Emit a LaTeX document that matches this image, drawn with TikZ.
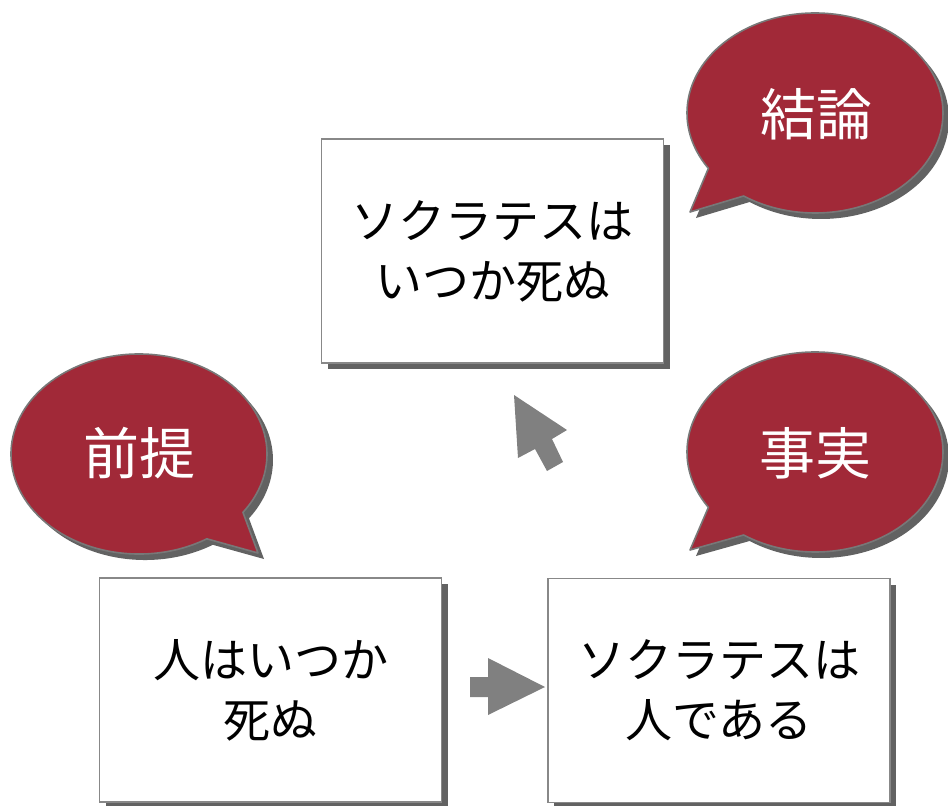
\documentclass[tikz,border=0pt]{standalone}
\usepackage{fontspec}
\newfontfamily\jp{Noto Sans CJK JP}
\usetikzlibrary{shadows}
\definecolor{callred}{RGB}{161,41,56}
\definecolor{shadegray}{RGB}{98,98,98}
\definecolor{edgegray}{RGB}{136,136,136}
\definecolor{bubbleedge}{RGB}{120,120,120}
\definecolor{arrowgray}{RGB}{128,128,128}
\tikzset{
  box/.style={draw=edgegray, line width=1.6pt, fill=white, inner sep=0pt,
    minimum width=342pt, minimum height=224pt, align=center,
    font=\jp\fontsize{47}{60}\selectfont,
    drop shadow={shadow xshift=6pt, shadow yshift=-6pt, fill=shadegray, opacity=1}},
  bubblefill/.style={fill=callred, draw=bubbleedge, line width=1.6pt, line join=round},
  bubbleshadow/.style={fill=shadegray},
  bubbletext/.style={text=white, font=\jp\fontsize{56}{60}\selectfont, inner sep=0pt},
  blockarrow/.style={fill=arrowgray}
}
\begin{document}
\begin{tikzpicture}[x=1pt,y=-1pt]
\useasboundingbox (0,0) rectangle (948,806);
% bubbles: shadows
\begin{scope}[shift={(6,6)}]
\fill[bubbleshadow] (815,113) ++(146.4:128 and 100) arc[start angle=146.4, end angle=483.9, x radius=128, y radius=100] -- (690,212) -- cycle;
\fill[bubbleshadow] (815,452) ++(146.4:128 and 100) arc[start angle=146.4, end angle=483.9, x radius=128, y radius=100] -- (690,550) -- cycle;
\fill[bubbleshadow] (139,454) ++(58:128 and 100) arc[start angle=58, end angle=395.7, x radius=128, y radius=100] -- (258,553) -- cycle;
\end{scope}
% bubbles
\path[bubblefill] (815,113) ++(146.4:128 and 100) arc[start angle=146.4, end angle=483.9, x radius=128, y radius=100] -- (690,212) -- cycle;
\path[bubblefill] (815,452) ++(146.4:128 and 100) arc[start angle=146.4, end angle=483.9, x radius=128, y radius=100] -- (690,550) -- cycle;
\path[bubblefill] (139,454) ++(58:128 and 100) arc[start angle=58, end angle=395.7, x radius=128, y radius=100] -- (258,553) -- cycle;
\node[bubbletext] (ketsuron) at (816,114) {結論};
\node[bubbletext] (jijitsu) at (815,453) {事実};
\node[bubbletext] (zentei) at (139,453) {前提};
% boxes
\node[box] (conclusion) at (492.5,251) {ソクラテスは\\いつか死ぬ};
\node[box] (premise) at (270.5,690) {人はいつか\\死ぬ};
\node[box] (fact) at (719,690.5) {ソクラテスは\\人である};
% arrows
\fill[blockarrow] (470,677) -- (488,677) -- (488,658) -- (545,687) -- (488,715) -- (488,697) -- (470,697) -- cycle;
\fill[blockarrow] (514,395) -- (567,430) -- (552,439) -- (563,462) -- (547,471) -- (535,449) -- (518,458) -- cycle;
\end{tikzpicture}
\end{document}
